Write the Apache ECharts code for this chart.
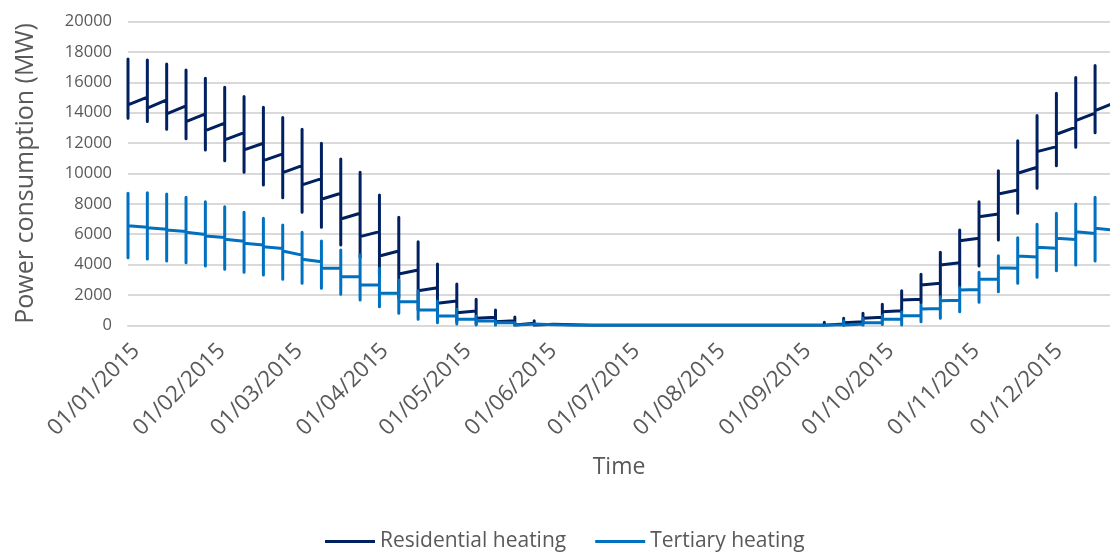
<!DOCTYPE html>
<html>
<head>
<meta charset="utf-8">
<script src="https://cdn.jsdelivr.net/npm/echarts@6/dist/echarts.min.js"></script>
<style>
html,body{margin:0;padding:0;background:#fff;}
#chart{width:1110px;height:553px;}
</style>
</head>
<body>
<div id="chart"></div>
<script>
// Day offsets (from 01/01/2015) of each weekly step
const weekDay = [0,7,14,21,28,35,42,49,56,63,70,77,84,91,98,105,112,119,126,133,140,147,154,161,168,175,182,189,196,203,210,217,224,231,238,245,252,259,266,273,280,287,294,301,308,315,322,329,336,343,350];
const lastDay = 357;

// Month tick positions and labels
const monthDay = [0,31,59,90,120,151,181,212,243,273,304,334];
const monthLabels = ['01/01/2015','01/02/2015','01/03/2015','01/04/2015','01/05/2015','01/06/2015','01/07/2015','01/08/2015','01/09/2015','01/10/2015','01/11/2015','01/12/2015'];

// Residential heating (MW): weekly peak, trough, level after step, level at end of week
const resHigh  = [17544,17478,17214,16819,16272,15680,15060,14362,13677,12912,11990,10956,10080,8584,7115,5508,4038,2721,1713,1008,550,300,190,130,0,0,0,0,0,0,0,0,0,0,80,130,200,461,790,1383,2280,3360,4809,6278,8143,10185,12161,13809,15284,16312,17103];
const resLow   = [13637,13413,12912,12293,11549,10844,10080,9243,8406,7444,6456,5290,4500,3300,1800,1000,500,250,100,50,20,0,0,0,0,0,0,0,0,0,0,0,0,0,0,0,0,0,100,300,896,1469,1884,2543,3907,5620,7378,9026,10515,11727,12688];
const resStart = [14513,14296,13920,13413,12820,12207,11549,10844,10054,9243,8301,7003,5837,4565,3380,2280,1449,830,461,237,110,60,30,10,0,0,0,0,0,0,0,0,0,0,0,10,60,171,461,896,1667,2655,3972,5573,7154,8650,10014,11437,12583,13479,14138];
const resEnd   = [15020,14843,14447,13920,13308,12688,11990,11285,10515,9660,8696,7378,6166,4895,3643,2477,1600,942,527,303,140,70,30,10,0,0,0,0,0,0,0,0,0,0,0,20,85,237,527,962,1713,2767,4124,5731,7332,8914,10409,11766,13045,13967,14650];

// Tertiary heating (MW)
const terHigh  = [8696,8736,8650,8433,8143,7813,7444,7049,6608,6127,5554,4961,4631,3755,2984,2280,1600,1054,613,395,200,100,40,20,0,0,0,0,0,0,0,0,0,0,30,40,100,303,461,650,896,1337,1884,2503,3492,4585,5771,6654,7378,7991,8433];
const terLow   = [4454,4368,4236,4124,3907,3689,3492,3314,3031,2767,2437,2042,1667,1225,790,395,171,86,20,0,0,0,0,0,0,0,0,0,0,0,0,0,0,0,0,0,0,0,0,50,20,237,461,896,1515,2214,2767,3162,3597,3972,4236];
const terStart = [6562,6430,6278,6127,5883,5666,5402,5180,4895,4350,3755,3202,2655,2108,1555,1008,613,395,303,171,100,50,20,0,0,0,0,0,0,0,0,0,0,0,0,0,20,66,171,395,632,1074,1621,2326,3031,3795,4565,5138,5731,6166,6390];
const terEnd   = [6456,6325,6180,5980,5780,5540,5290,5050,4620,4180,3755,3202,2655,2108,1555,1008,613,395,280,160,90,40,10,0,0,0,0,0,0,0,0,0,0,0,0,0,30,80,190,420,632,1100,1650,2350,3031,3760,4500,5070,5650,6050,6260];

function build(high, low, start, end) {
  const pts = [];
  for (let i = 0; i < weekDay.length; i++) {
    const x = weekDay[i];
    if (i > 0) pts.push([x, end[i - 1]]);
    pts.push([x, high[i]], [x, low[i]], [x, start[i]]);
  }
  pts.push([lastDay, end[end.length - 1]]);
  return pts;
}

const FONT = 'Open Sans';
const GREY = '#595959';
const chart = echarts.init(document.getElementById('chart'), null, {renderer: 'canvas'});
chart.setOption({
  animation: false,
  textStyle: {fontFamily: FONT},
  grid: {left: 128, right: 0, top: 21.6, bottom: 553 - 325.3, containLabel: false},
  legend: {
    left: 320, top: 526,
    icon: 'rect', itemWidth: 50, itemHeight: 3, itemGap: 29,
    textStyle: {color: GREY, fontSize: 21, fontFamily: FONT},
    data: ['Residential heating', 'Tertiary heating']
  },
  xAxis: {
    type: 'value', min: 0, max: 355.4,
    name: 'Time', nameLocation: 'middle', nameGap: 131,
    nameTextStyle: {color: GREY, fontSize: 23, fontFamily: FONT},
    axisLine: {show: true, lineStyle: {color: '#d9d9d9', width: 2}},
    axisTick: {show: false},
    splitLine: {show: false},
    axisLabel: {
      customValues: monthDay,
      rotate: 45, margin: 14, verticalAlign: 'top',
      color: GREY, fontSize: 22.5, fontFamily: FONT,
      formatter: function (v) { const i = monthDay.indexOf(v); return i >= 0 ? monthLabels[i] : ''; }
    }
  },
  yAxis: {
    type: 'value', min: 0, max: 20000, interval: 2000,
    name: 'Power consumption (MW)', nameLocation: 'middle', nameGap: 89.5,
    nameTextStyle: {color: GREY, fontSize: 25, fontFamily: FONT},
    axisLine: {show: false}, axisTick: {show: false},
    axisLabel: {color: GREY, fontSize: 16.5, margin: 16, fontFamily: FONT,
      formatter: function (v) { return String(v); }},
    splitLine: {lineStyle: {color: '#d9d9d9', width: 2}}
  },
  series: [
    {
      name: 'Residential heating', type: 'line', showSymbol: false, clip: true,
      color: '#002060',
      lineStyle: {width: 3, cap: 'round', join: 'round', color: '#002060'},
      data: build(resHigh, resLow, resStart, resEnd)
    },
    {
      name: 'Tertiary heating', type: 'line', showSymbol: false, clip: true,
      color: '#0070C0',
      lineStyle: {width: 3, cap: 'round', join: 'round', color: '#0070C0'},
      data: build(terHigh, terLow, terStart, terEnd)
    }
  ]
});
</script>
</body>
</html>
